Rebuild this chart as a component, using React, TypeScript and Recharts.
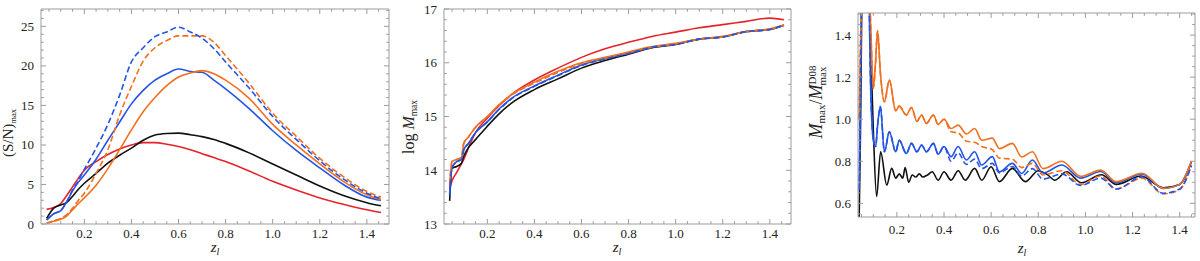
import { LineChart, Line, XAxis, YAxis } from "recharts";

// ---- panel 1: (S/N)max vs z_l ----
const snZ = [0.04, 0.07, 0.1, 0.125, 0.15, 0.175, 0.2, 0.25, 0.3, 0.35, 0.4, 0.45, 0.5, 0.55, 0.6, 0.65, 0.7, 0.75, 0.8, 0.9, 1.0, 1.1, 1.2, 1.3, 1.4, 1.46];
const snRed = [1.85, 2.1, 2.6, 3.6, 4.7, 5.8, 6.8, 7.9, 8.8, 9.5, 10.0, 10.3, 10.3, 10.1, 9.8, 9.4, 8.9, 8.4, 7.9, 6.7, 5.4, 4.3, 3.3, 2.5, 1.8, 1.45];
const snBlack = [0.7, 2.0, 2.4, 2.7, 3.5, 4.4, 5.15, 6.4, 7.7, 8.7, 9.6, 10.6, 11.25, 11.45, 11.5, 11.3, 11.05, 10.7, 10.2, 9.0, 7.6, 6.2, 4.8, 3.6, 2.7, 2.3];
const snBlue = [0.5, 1.3, 1.7, 2.8, 4.2, 5.3, 6.2, 8.2, 10.6, 12.9, 15.2, 16.9, 18.2, 19.0, 19.6, 19.3, 19.2, 18.2, 17.1, 14.6, 11.8, 9.3, 7.1, 5.0, 3.4, 3.0];
const snBlueDash = [0.5, 1.3, 1.7, 2.8, 4.3, 5.5, 6.9, 9.6, 12.6, 16.3, 20.5, 22.3, 23.7, 24.3, 24.9, 24.3, 23.5, 22.2, 20.5, 17.2, 13.6, 10.7, 8.0, 5.7, 3.9, 3.2];
const snOrange = [0.1, 0.35, 0.6, 1.0, 1.8, 2.6, 3.3, 4.9, 7.0, 9.4, 11.9, 14.2, 16.0, 17.5, 18.6, 19.1, 19.4, 19.0, 18.2, 15.9, 12.6, 10.0, 7.6, 5.4, 3.7, 3.1];
const snOrangeDash = [0.1, 0.4, 0.7, 1.2, 2.0, 3.0, 3.9, 6.4, 9.4, 13.8, 17.4, 20.6, 22.3, 23.2, 23.8, 23.8, 23.8, 23.0, 21.3, 17.8, 14.0, 11.1, 8.3, 6.0, 4.1, 3.4];

// ---- panel 2: log Mmax vs z_l ----
const mZ = [0.04, 0.05, 0.07, 0.09, 0.1, 0.12, 0.15, 0.2, 0.25, 0.3, 0.4, 0.5, 0.6, 0.7, 0.8, 0.9, 1.0, 1.1, 1.2, 1.3, 1.4, 1.46];
const mRed = [13.65, 13.8, 13.96, 14.12, 14.2, 14.42, 14.7, 14.97, 15.2, 15.4, 15.68, 15.9, 16.1, 16.26, 16.38, 16.49, 16.57, 16.65, 16.71, 16.77, 16.83, 16.8];
const mBlack = [13.43, 14.04, 14.07, 14.13, 14.26, 14.42, 14.57, 14.82, 15.05, 15.24, 15.5, 15.7, 15.9, 16.04, 16.16, 16.28, 16.34, 16.44, 16.48, 16.58, 16.62, 16.7];
const mBlue = [13.55, 14.05, 14.16, 14.2, 14.38, 14.5, 14.7, 14.9, 15.14, 15.33, 15.57, 15.77, 15.96, 16.08, 16.18, 16.29, 16.35, 16.44, 16.48, 16.58, 16.62, 16.7];
const mBlueDash = [13.55, 14.05, 14.16, 14.2, 14.38, 14.5, 14.7, 14.9, 15.13, 15.32, 15.56, 15.76, 15.95, 16.07, 16.17, 16.29, 16.34, 16.44, 16.48, 16.58, 16.62, 16.7];
const mOrange = [13.73, 14.16, 14.2, 14.24, 14.5, 14.62, 14.8, 15.0, 15.22, 15.4, 15.64, 15.84, 16.0, 16.1, 16.2, 16.3, 16.36, 16.44, 16.49, 16.58, 16.63, 16.7];
const mOrangeDash = [13.73, 14.16, 14.2, 14.24, 14.5, 14.62, 14.8, 15.0, 15.21, 15.39, 15.62, 15.82, 15.98, 16.09, 16.19, 16.29, 16.35, 16.44, 16.48, 16.58, 16.62, 16.7];

// ---- panel 3: Mmax / Mmax^D08 vs z_l ----
const rZ = [0.04, 0.045, 0.055, 0.075, 0.09, 0.1, 0.11, 0.118, 0.13, 0.147, 0.168, 0.195, 0.21, 0.24, 0.262, 0.285, 0.305, 0.325, 0.355, 0.375, 0.4, 0.43, 0.46, 0.495, 0.53, 0.56, 0.605, 0.635, 0.69, 0.73, 0.775, 0.82, 0.9, 0.98, 1.065, 1.13, 1.24, 1.33, 1.4, 1.45];
const rOrange = [1.0, 1.3, 1.9, 1.9, 1.4, 1.147, 1.28, 1.42, 1.22, 1.083, 1.186, 1.04, 1.062, 1.02, 1.056, 0.99, 1.02, 0.98, 1.02, 0.975, 1.0, 0.956, 0.972, 0.93, 0.956, 0.9, 0.91, 0.86, 0.885, 0.82, 0.845, 0.765, 0.8, 0.728, 0.758, 0.703, 0.743, 0.671, 0.69, 0.8];
const rOrangeDash = [1.0, 1.3, 1.9, 1.9, 1.4, 1.147, 1.28, 1.42, 1.22, 1.083, 1.186, 1.04, 1.062, 1.02, 1.056, 0.99, 1.02, 0.98, 1.02, 0.975, 1.0, 0.94, 0.935, 0.895, 0.89, 0.87, 0.855, 0.815, 0.81, 0.77, 0.79, 0.735, 0.755, 0.69, 0.73, 0.668, 0.72, 0.645, 0.665, 0.78];
const rBlue = [0.663, 1.1, 1.9, 1.9, 1.1, 0.9, 0.87, 0.97, 1.06, 0.845, 0.94, 0.845, 0.9, 0.837, 0.885, 0.845, 0.877, 0.845, 0.885, 0.834, 0.87, 0.822, 0.87, 0.806, 0.845, 0.782, 0.822, 0.75, 0.79, 0.742, 0.806, 0.744, 0.782, 0.72, 0.751, 0.698, 0.74, 0.671, 0.69, 0.798];
const rBlueDash = [0.663, 1.1, 1.9, 1.9, 1.1, 0.9, 0.87, 0.97, 1.06, 0.845, 0.94, 0.845, 0.9, 0.837, 0.885, 0.845, 0.877, 0.845, 0.885, 0.834, 0.87, 0.8, 0.84, 0.785, 0.81, 0.765, 0.79, 0.745, 0.775, 0.73, 0.765, 0.715, 0.74, 0.685, 0.72, 0.668, 0.725, 0.648, 0.668, 0.78];
const rBlackZ = [0.04, 0.045, 0.055, 0.075, 0.09, 0.1, 0.114, 0.131, 0.157, 0.178, 0.195, 0.21, 0.225, 0.235, 0.25, 0.265, 0.28, 0.295, 0.31, 0.33, 0.35, 0.375, 0.4, 0.43, 0.46, 0.49, 0.53, 0.56, 0.6, 0.635, 0.69, 0.745, 0.8, 0.84, 0.87, 0.92, 0.983, 1.068, 1.131, 1.237, 1.33, 1.4, 1.45];
const rBlack = [0.535, 0.9, 1.8, 1.9, 1.3, 0.95, 0.632, 0.845, 0.687, 0.766, 0.72, 0.74, 0.72, 0.77, 0.7, 0.735, 0.725, 0.74, 0.725, 0.735, 0.75, 0.71, 0.75, 0.71, 0.755, 0.71, 0.766, 0.71, 0.774, 0.703, 0.766, 0.703, 0.755, 0.735, 0.71, 0.75, 0.698, 0.736, 0.69, 0.73, 0.674, 0.69, 0.8];

// ---- tick labels ----
const zMajor = [0.2, 0.4, 0.6, 0.8, 1.0, 1.2, 1.4];
const snMajor = [0, 5, 10, 15, 20, 25];
const mMajor = [13, 14, 15, 16, 17];
const rMajor = [0.6, 0.8, 1.0, 1.2, 1.4];

const RED = "#e5232b";
const BLUE = "#2454e4";
const ORANGE = "#f0701f";
const BLACK = "#111111";
const FRAME = "#9c9c9c";
const FONT = "'Liberation Serif', 'Times New Roman', serif";

const steps = (a: number, b: number, d: number) => {
  const out: number[] = [];
  for (let v = a; v <= b + 1e-9; v += d) out.push(Math.round(v * 1e6) / 1e6);
  return out;
};
const zip = (z: number[], v: number[]) => z.map((zz, i) => ({ z: zz, v: v[i] }));
const isMajor = (majors: number[], v: number) => majors.some((m) => Math.abs(m - v) < 1e-6);

type Side = "bottom" | "top" | "left" | "right";

const makeTick = (side: Side, majors: number[], fmt?: (v: number) => string, off = 0) => (props: any) => {
  const { x, y, payload } = props;
  const v = payload.value;
  const major = isMajor(majors, v);
  const len = major ? 5 : 2.8;
  let line;
  if (side === "bottom") line = <line x1={x} y1={y} x2={x} y2={y - len} />;
  else if (side === "top") line = <line x1={x} y1={y} x2={x} y2={y + len} />;
  else if (side === "left") line = <line x1={x} y1={y} x2={x + len} y2={y} />;
  else line = <line x1={x} y1={y} x2={x - len} y2={y} />;
  return (
    <g>
      <g stroke={FRAME} strokeWidth={1}>{line}</g>
      {major && fmt && side === "bottom" && (
        <text x={x} y={y + off} textAnchor="middle" fontSize={13} fill="#222" fontFamily={FONT}>{fmt(v)}</text>
      )}
      {major && fmt && side === "left" && (
        <text x={x - off} y={y + 4.5} textAnchor="end" fontSize={13} fill="#222" fontFamily={FONT}>{fmt(v)}</text>
      )}
    </g>
  );
};

type Series = { z: number[]; v: number[]; color: string; dashed?: boolean };

type PanelProps = {
  left: number;
  plot: { l: number; r: number; t: number; b: number };
  xDomain: [number, number];
  yDomain: [number, number];
  yTicks: number[];
  yMajor: number[];
  yFmt: (v: number) => string;
  xLabelOff: number;
  series: Series[];
  yTitle: () => any;
  xTitleX: number;
  xTitleY: number;
};

const W = 400;
const H = 261;
const zTicks = steps(0.05, 1.45, 0.05);

function Panel(p: PanelProps) {
  const axisLine = { stroke: FRAME, strokeWidth: 1 };
  return (
    <div style={{ position: "absolute", left: p.left, top: 0 }}>
      <LineChart width={W} height={H} margin={{ top: 0, right: 0, bottom: 0, left: 0 }}>
        <XAxis
          xAxisId="b"
          type="number"
          dataKey="z"
          domain={p.xDomain}
          allowDataOverflow
          ticks={zTicks}
          interval={0}
          tickLine={false}
          tickSize={0}
          tickMargin={0}
          height={H - p.plot.b}
          axisLine={axisLine}
          tick={makeTick("bottom", zMajor, (v) => v.toFixed(1), p.xLabelOff)}
          label={() => (
            <text x={p.xTitleX} y={p.xTitleY} textAnchor="middle" fontFamily={FONT} fontSize={15} fontStyle="italic" fill="#222">
              z<tspan fontSize={10} dy={3}>l</tspan>
            </text>
          )}
        />
        <XAxis
          xAxisId="t"
          orientation="top"
          type="number"
          dataKey="z"
          domain={p.xDomain}
          allowDataOverflow
          ticks={zTicks}
          interval={0}
          tickLine={false}
          tickSize={0}
          tickMargin={0}
          height={p.plot.t}
          axisLine={axisLine}
          tick={makeTick("top", zMajor)}
        />
        <YAxis
          yAxisId="l"
          type="number"
          domain={p.yDomain}
          allowDataOverflow
          ticks={p.yTicks}
          interval={0}
          tickLine={false}
          tickSize={0}
          tickMargin={0}
          width={p.plot.l}
          axisLine={axisLine}
          tick={makeTick("left", p.yMajor, p.yFmt, 7)}
          label={p.yTitle}
        />
        <YAxis
          yAxisId="r"
          orientation="right"
          type="number"
          domain={p.yDomain}
          allowDataOverflow
          ticks={p.yTicks}
          interval={0}
          tickLine={false}
          tickSize={0}
          tickMargin={0}
          width={W - p.plot.r}
          axisLine={axisLine}
          tick={makeTick("right", p.yMajor)}
        />
        {p.series.map((s, i) => (
          <Line
            key={i}
            xAxisId="b"
            yAxisId="l"
            data={zip(s.z, s.v)}
            dataKey="v"
            type="monotone"
            stroke={s.color}
            strokeWidth={1.6}
            strokeDasharray={s.dashed ? "6 3" : undefined}
            dot={false}
            activeDot={false}
            isAnimationActive={false}
          />
        ))}
      </LineChart>
    </div>
  );
}

const sub = (t: string, size = 9, dy = 3) => (
  <tspan fontSize={size} dy={dy}>{t}</tspan>
);

export default function App() {
  const snSeries: Series[] = [
    { z: snZ, v: snRed, color: RED },
    { z: snZ, v: snBlack, color: BLACK },
    { z: snZ, v: snBlue, color: BLUE },
    { z: snZ, v: snOrange, color: ORANGE },
    { z: snZ, v: snOrangeDash, color: ORANGE, dashed: true },
    { z: snZ, v: snBlueDash, color: BLUE, dashed: true },
  ];
  const mSeries: Series[] = [
    { z: mZ, v: mRed, color: RED },
    { z: mZ, v: mBlack, color: BLACK },
    { z: mZ, v: mBlue, color: BLUE },
    { z: mZ, v: mOrange, color: ORANGE },
    { z: mZ, v: mOrangeDash, color: ORANGE, dashed: true },
    { z: mZ, v: mBlueDash, color: BLUE, dashed: true },
  ];
  const rSeries: Series[] = [
    { z: rBlackZ, v: rBlack, color: BLACK },
    { z: rZ, v: rBlue, color: BLUE },
    { z: rZ, v: rOrange, color: ORANGE },
    { z: rZ, v: rOrangeDash, color: ORANGE, dashed: true },
    { z: rZ, v: rBlueDash, color: BLUE, dashed: true },
  ];

  return (
    <div style={{ position: "absolute", left: 0, top: 0, width: 1200, height: 261, background: "#fff" }}>
      <Panel
        left={0}
        plot={{ l: 41, r: 389, t: 9, b: 224 }}
        xDomain={[0.016, 1.494]}
        yDomain={[0, 27.2]}
        yTicks={steps(0, 27, 1)}
        yMajor={snMajor}
        yFmt={(v) => String(v)}
        xLabelOff={14}
        series={snSeries}
        xTitleX={215}
        xTitleY={252}
        yTitle={() => (
          <text transform="translate(12.5,133) rotate(-90)" textAnchor="middle" fontFamily={FONT} fontSize={15} fill="#222">
            (S/N){sub("max", 8.5, 3)}
          </text>
        )}
      />
      <Panel
        left={400}
        plot={{ l: 44, r: 391, t: 9, b: 224 }}
        xDomain={[0.016, 1.49]}
        yDomain={[13, 17]}
        yTicks={steps(13, 17, 0.2)}
        yMajor={mMajor}
        yFmt={(v) => String(v)}
        xLabelOff={14}
        series={mSeries}
        xTitleX={217}
        xTitleY={252}
        yTitle={() => (
          <text transform="translate(14,127) rotate(-90)" textAnchor="middle" fontFamily={FONT} fontSize={16} fill="#222">
            log <tspan fontStyle="italic">M</tspan>{sub("max", 9.5, 3)}
          </text>
        )}
      />
      <Panel
        left={800}
        plot={{ l: 58, r: 395, t: 13, b: 217 }}
        xDomain={[0.035, 1.465]}
        yDomain={[0.535, 1.505]}
        yTicks={steps(0.55, 1.5, 0.05)}
        yMajor={rMajor}
        yFmt={(v) => v.toFixed(1)}
        xLabelOff={17}
        series={rSeries}
        xTitleX={222}
        xTitleY={253}
        yTitle={() => (
          <text transform="translate(22,102) rotate(-90)" textAnchor="middle" fontFamily={FONT} fontSize={18} fill="#222">
            <tspan fontStyle="italic">M</tspan>
            <tspan fontSize={11} dy={3}>max</tspan>
            <tspan dy={-3}>/</tspan>
            <tspan fontStyle="italic">M</tspan>
            <tspan fontSize={11} dy={-6}>D08</tspan>
            <tspan fontSize={11} dx={-20} dy={10}>max</tspan>
          </text>
        )}
      />
    </div>
  );
}
